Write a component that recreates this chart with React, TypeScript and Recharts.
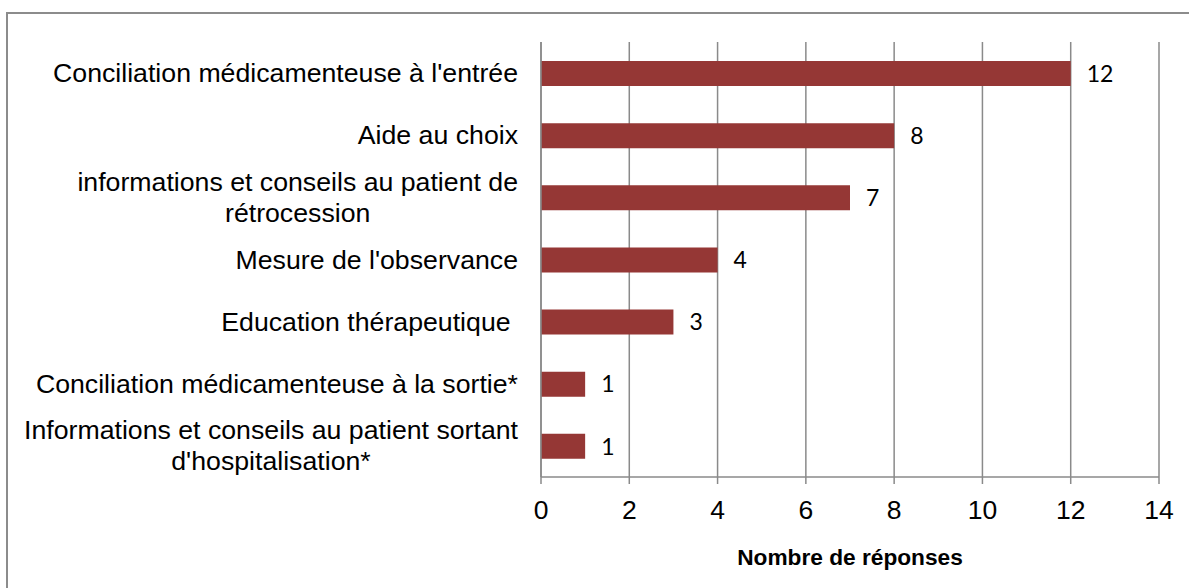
import { BarChart, Bar, XAxis, YAxis, CartesianGrid, LabelList } from "recharts";

const categories = [
  "Conciliation médicamenteuse à l'entrée",
  "Aide au choix",
  "informations et conseils au patient de\nrétrocession",
  "Mesure de l'observance",
  "Education thérapeutique ",
  "Conciliation médicamenteuse à la sortie*",
  "Informations et conseils au patient sortant\nd'hospitalisation*",
];
const responses = [12, 8, 7, 4, 3, 1, 1];
const xTicks = [0, 2, 4, 6, 8, 10, 12, 14];

const data = categories.map((name, i) => ({ name, value: responses[i] }));

const FONT = '"Liberation Sans", Arial, sans-serif';
const LABEL_FONT = '26.7px "Liberation Sans"';
const GRID = "#8a8a8a";
const BAR = "#953735";

let ctx: CanvasRenderingContext2D | null = null;
const measure = (s: string) => {
  if (!ctx) ctx = document.createElement("canvas").getContext("2d");
  if (!ctx) return s.length * 13;
  ctx.font = LABEL_FONT;
  return ctx.measureText(s).width;
};

// multi-line labels: block right-aligned to the axis, lines centred in the block
const CategoryTick = (props: any) => {
  const { x, y, payload } = props;
  const lines: string[] = String(payload.value).split("\n");
  const w = Math.max(...lines.map(measure));
  const cx = x - w / 2;
  const lh = 31;
  const first = y + 9 - ((lines.length - 1) * lh) / 2;
  return (
    <text
      x={cx}
      y={first}
      textAnchor="middle"
      fontFamily={FONT}
      fontSize={26.7}
      fill="#000"
      style={{ whiteSpace: "pre" }}
    >
      {lines.map((l, i) => (
        <tspan key={i} x={cx} y={first + i * lh}>
          {l}
        </tspan>
      ))}
    </text>
  );
};

export default function App() {
  return (
    <div
      style={{
        position: "fixed",
        left: 0,
        top: 0,
        width: 1189,
        height: 588,
        overflow: "hidden",
        background: "#fff",
      }}
    >
      <div
        style={{
          position: "absolute",
          left: 6,
          top: 12,
          width: 1300,
          height: 700,
          border: "2px solid #8c8c8c",
          boxSizing: "border-box",
        }}
      />
      <div style={{ position: "absolute", left: 0, top: 0 }}>
        <BarChart
          width={1189}
          height={588}
          data={data}
          layout="vertical"
          margin={{ top: 42, right: 30, bottom: 0, left: 0 }}
          barSize={25}
        >
          <CartesianGrid horizontal={false} stroke={GRID} strokeWidth={1.5} />
          <XAxis
            type="number"
            domain={[0, 14]}
            ticks={xTicks}
            height={111}
            stroke={GRID}
            strokeWidth={1.5}
            tickSize={7}
            tickMargin={16}
            tick={{ fill: "#000", fontSize: 26.5, fontFamily: FONT }}
            label={{
              value: "Nombre de réponses",
              position: "insideBottom",
              offset: 23,
              fill: "#000",
              fontSize: 22.7,
              fontWeight: "bold",
              fontFamily: FONT,
            }}
          />
          <YAxis
            type="category"
            dataKey="name"
            width={541}
            axisLine={{ stroke: GRID, strokeWidth: 1.5 }}
            tickLine={false}
            tickSize={0}
            tickMargin={23}
            interval={0}
            tick={<CategoryTick />}
          />
          <Bar dataKey="value" fill={BAR} isAnimationActive={false}>
            <LabelList
              dataKey="value"
              position="right"
              offset={16}
              fill="#000"
              fontSize={23}
              fontFamily="Lato, 'Open Sans', sans-serif"
            />
          </Bar>
        </BarChart>
      </div>
    </div>
  );
}
